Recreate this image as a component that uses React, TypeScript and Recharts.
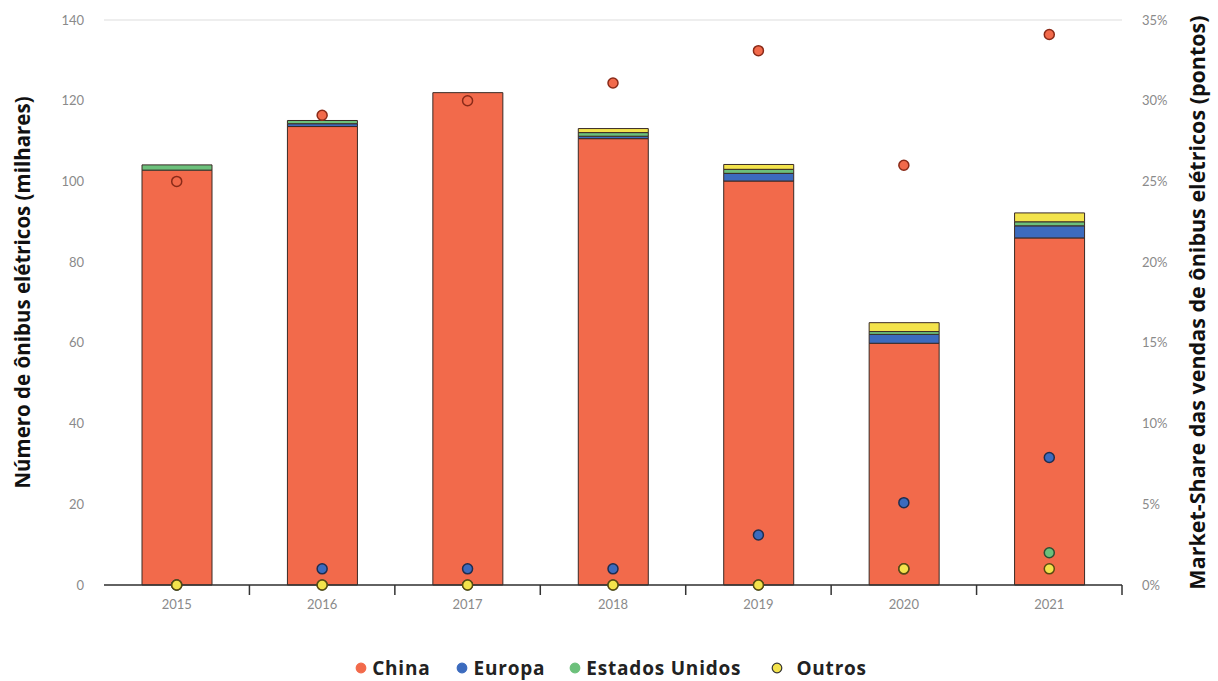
import React from 'react';
import { ComposedChart, Bar, Scatter, XAxis, YAxis, CartesianGrid, Legend } from 'recharts';

const years = ['2015', '2016', '2017', '2018', '2019', '2020', '2021'];
const chinaBuses = [102.8, 113.6, 122, 110.6, 100.1, 59.9, 86];
const europaBuses = [0, 0.7, 0, 0.6, 1.9, 2.2, 3];
const euaBuses = [1.3, 0.8, 0, 0.9, 1.0, 0.7, 1.0];
const outrosBuses = [0, 0, 0, 1.0, 1.2, 2.2, 2.2];

const chinaShare = [25, 29.1, 30, 31.1, 33.1, 26, 34.1];
const europaShare = [0, 1, 1, 1, 3.1, 5.1, 7.9];
const euaShare = [0, 0, 0, 0, 0, 1, 2];
const outrosShare = [0, 0, 0, 0, 0, 1, 1];

const leftTicks = [0, 20, 40, 60, 80, 100, 120, 140];
const rightTicks = [0, 5, 10, 15, 20, 25, 30, 35];

const series = [
  { name: 'China', fill: '#F26A4B', stroke: '#8A2A18' },
  { name: 'Europa', fill: '#3C6BBE', stroke: '#1F2D4F' },
  { name: 'Estados Unidos', fill: '#6CC07B', stroke: '#2E4F33' },
  { name: 'Outros', fill: '#F3E34C', stroke: '#5A4B10' },
];

const data = years.map((y, i) => ({
  year: y,
  china: chinaBuses[i],
  europa: europaBuses[i],
  eua: euaBuses[i],
  outros: outrosBuses[i],
  chinaS: chinaShare[i],
  europaS: europaShare[i],
  euaS: euaShare[i],
  outrosS: outrosShare[i],
}));

const W = 1218;
const H = 681;
const LEFT_W = 104;
const RIGHT_W = 96;
const PLOT_W = W - LEFT_W - RIGHT_W;
const BAND = PLOT_W / years.length;

const tickFont = { fontFamily: 'Lato, "Noto Sans", sans-serif', fontSize: 13, fill: '#8a8a8a' };
const titleFont = { fontFamily: '"Open Sans", "Noto Sans", sans-serif', fontSize: 20.5, fontWeight: 700, fill: '#111' };

const XTick = (props: any) => {
  const { x, y, payload } = props;
  return (
    <g>
      <line x1={x + BAND / 2} x2={x + BAND / 2} y1={y} y2={y + 10} stroke="#333" strokeWidth={1.5} />
      <text x={x} y={y + 24} textAnchor="middle" {...tickFont}>{payload.value}</text>
    </g>
  );
};

const dot = (s: { fill: string; stroke: string }) => (props: any) => {
  const { cx, cy } = props;
  if (cx == null || cy == null) return <g />;
  return <circle cx={cx} cy={cy} r={5} fill={s.fill} stroke={s.stroke} strokeWidth={1.5} />;
};

const legendGaps = [0, 26, 24, 30];

const LegendContent = () => (
  <div style={{ display: 'flex', justifyContent: 'center', alignItems: 'center', paddingTop: 10, paddingLeft: 4, fontFamily: '"Open Sans", "Noto Sans", sans-serif', fontWeight: 700, fontSize: 19, letterSpacing: 0.8, color: '#222' }}>
    {series.map((s, i) => (
      <div key={s.name} style={{ display: 'flex', alignItems: 'center', marginLeft: legendGaps[i] }}>
        <svg width={12} height={12} style={{ marginRight: i === 3 ? 13 : 5 }}>
          <circle cx={6} cy={6} r={4.8} fill={s.fill} stroke={i === 3 ? '#333' : s.fill} strokeWidth={1.2} />
        </svg>
        <span>{s.name}</span>
      </div>
    ))}
  </div>
);

export default function App() {
  return (
    <div style={{ position: 'absolute', left: 0, top: 0, width: W, height: H, background: '#fff' }}>
      <ComposedChart width={W} height={H} data={data} margin={{ top: 20, right: 0, bottom: 0, left: 0 }}>
        <CartesianGrid vertical={false} stroke="#e8e8e8" strokeWidth={1.5} />
        <XAxis
          dataKey="year"
          height={60}
          axisLine={{ stroke: '#333', strokeWidth: 1.5 }}
          tickLine={false}
          tickSize={0}
          tickMargin={0}
          tick={<XTick />}
          interval={0}
        />
        <YAxis
          yAxisId="left"
          width={LEFT_W}
          domain={[0, 140]}
          ticks={leftTicks}
          axisLine={false}
          tickLine={false}
          tickMargin={14}
          tick={tickFont}
          label={(p: any) => {
            const vb = p.viewBox;
            const cx = vb.x + 22;
            const cy = vb.y + vb.height / 2 - 10;
            return (
              <text x={cx} y={cy} transform={`rotate(-90, ${cx}, ${cy})`} textAnchor="middle" dominantBaseline="central" {...titleFont}>
                Número de ônibus elétricos (milhares)
              </text>
            );
          }}
        />
        <YAxis
          yAxisId="right"
          orientation="right"
          width={RIGHT_W}
          domain={[0, 35]}
          ticks={rightTicks}
          tickFormatter={(v: number) => `${v}%`}
          axisLine={false}
          tickLine={false}
          tickMargin={14}
          tick={tickFont}
          label={(p: any) => {
            const vb = p.viewBox;
            const cx = vb.x + 74;
            const cy = vb.y + vb.height / 2;
            return (
              <text x={cx} y={cy} transform={`rotate(-90, ${cx}, ${cy})`} textAnchor="middle" dominantBaseline="central" {...titleFont} fontSize={21.5}>
                Market-Share das vendas de ônibus elétricos (pontos)
              </text>
            );
          }}
        />
        <Bar yAxisId="left" dataKey="china" stackId="a" barSize={70} fill={series[0].fill} stroke="#3a2a25" strokeWidth={1} isAnimationActive={false} />
        <Bar yAxisId="left" dataKey="europa" stackId="a" barSize={70} fill={series[1].fill} stroke="#3a2a25" strokeWidth={1} isAnimationActive={false} />
        <Bar yAxisId="left" dataKey="eua" stackId="a" barSize={70} fill={series[2].fill} stroke="#3a2a25" strokeWidth={1} isAnimationActive={false} />
        <Bar yAxisId="left" dataKey="outros" stackId="a" barSize={70} fill={series[3].fill} stroke="#3a2a25" strokeWidth={1} isAnimationActive={false} />
        <Scatter yAxisId="right" dataKey="chinaS" shape={dot(series[0])} isAnimationActive={false} />
        <Scatter yAxisId="right" dataKey="europaS" shape={dot(series[1])} isAnimationActive={false} />
        <Scatter yAxisId="right" dataKey="euaS" shape={dot(series[2])} isAnimationActive={false} />
        <Scatter yAxisId="right" dataKey="outrosS" shape={dot(series[3])} isAnimationActive={false} />
        <Legend verticalAlign="bottom" height={36} content={<LegendContent />} />
      </ComposedChart>
    </div>
  );
}
